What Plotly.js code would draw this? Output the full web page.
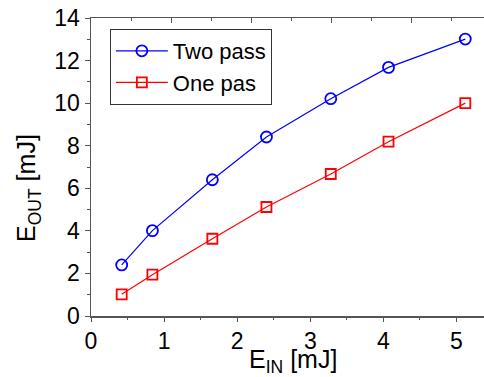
<!DOCTYPE html>
<html>
<head>
<meta charset="utf-8">
<script src="https://cdn.plot.ly/plotly-3.0.1.min.js"></script>
<style>html,body{margin:0;padding:0;background:#fff;}#chart{width:484px;height:377px;}</style>
</head>
<body>
<div id="chart"></div>
<script>
const ein = [0.42, 0.84, 1.66, 2.40, 3.28, 4.07, 5.12];
const twoPass = [2.40, 4.01, 6.40, 8.41, 10.21, 11.68, 13.01];
const onePass = [1.02, 1.94, 3.63, 5.12, 6.67, 8.19, 10.0];
const seriesNames = ["Two pass", "One pas"];
const xTicks = [0, 1, 2, 3, 4, 5];
const yTicks = [0, 2, 4, 6, 8, 10, 12, 14];

const FONT = "Liberation Sans, Arial, sans-serif";
const AX = "#555555";

const traces = [
  {x: ein, y: twoPass, name: seriesNames[0], mode: "lines+markers", type: "scatter",
   line: {color: "#0000ff", width: 1.2},
   marker: {symbol: "circle-open", size: 11, color: "#0000ff", line: {width: 1.8, color: "#0000ff"}}},
  {x: ein, y: onePass, name: seriesNames[1], mode: "lines+markers", type: "scatter",
   line: {color: "#ff0000", width: 1.2},
   marker: {symbol: "square-open", size: 10, color: "#ff0000", line: {width: 1.8, color: "#ff0000"}}},
  {x: [], y: [], xaxis: "x2", showlegend: false, hoverinfo: "skip"}
];

const layout = {
  width: 484, height: 377,
  margin: {l: 91, r: 0, t: 18, b: 61, pad: 0},
  paper_bgcolor: "#fff", plot_bgcolor: "#fff",
  font: {family: FONT, size: 23, color: "#000"},
  showlegend: true,
  legend: {x: 0.048, y: 0.963, xanchor: "left", yanchor: "top",
           bordercolor: "#333", borderwidth: 1, bgcolor: "#fff",
           font: {family: FONT, size: 22, color: "#000"}, itemwidth: 52, tracegroupgap: 0},
  xaxis: {range: [0, 5.376], tickvals: xTicks, ticktext: xTicks.map(String),
          ticks: "outside", ticklen: 4, tickwidth: 1, tickcolor: AX,
          minor: {dtick: 0.5, tick0: 0, ticks: "outside", ticklen: 2, tickcolor: AX, tickwidth: 1},
          showline: true, linecolor: AX, linewidth: 1.5, showgrid: false, zeroline: false,
          tickfont: {family: FONT, size: 23, color: "#000"}, fixedrange: true},
  xaxis2: {overlaying: "x", side: "top", range: [0, 9.825], tick0: 0, dtick: 2,
           ticks: "inside", ticklen: 5, tickwidth: 1, tickcolor: AX,
           minor: {dtick: 1, tick0: 0, ticks: "inside", ticklen: 3, tickcolor: AX, tickwidth: 1},
           showticklabels: false, showline: true, linecolor: AX, linewidth: 1.5,
           showgrid: false, zeroline: false},
  yaxis: {range: [0, 14], tickvals: yTicks, ticktext: yTicks.map(String),
          ticks: "outside", ticklen: 5, tickwidth: 1, tickcolor: AX,
          minor: {dtick: 1, tick0: 0, ticks: "outside", ticklen: 3, tickcolor: AX, tickwidth: 1},
          showline: true, linecolor: AX, linewidth: 1.5, showgrid: false, zeroline: false,
          tickfont: {family: FONT, size: 23, color: "#000"}},
  annotations: [
    {text: "E<sub>IN</sub> [mJ]", xref: "paper", yref: "paper", x: 0.514, y: -0.152,
     xanchor: "center", yanchor: "middle", showarrow: false,
     font: {family: FONT, size: 25, color: "#000"}},
    {text: "E<sub>OUT</sub> [mJ]", xref: "paper", yref: "paper", x: -0.16, y: 0.43,
     xanchor: "center", yanchor: "middle", showarrow: false, textangle: -90,
     font: {family: FONT, size: 25, color: "#000"}}
  ]
};

Plotly.newPlot("chart", traces, layout, {displayModeBar: false, staticPlot: true});
</script>
</body>
</html>
